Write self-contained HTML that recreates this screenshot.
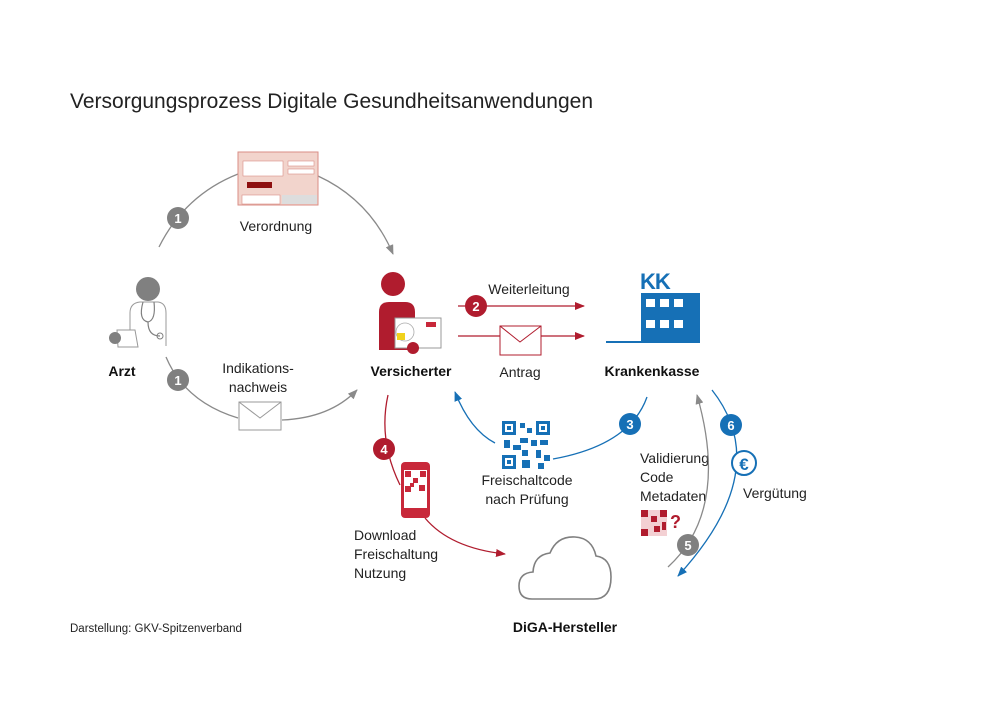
<!DOCTYPE html>
<html><head><meta charset="utf-8"><style>
html,body{margin:0;padding:0;background:#fff;}
svg{display:block;font-family:"Liberation Sans",sans-serif;}
</style></head><body>
<svg width="998" height="703" viewBox="0 0 998 703" xmlns="http://www.w3.org/2000/svg">
<defs>
<marker id="ag" markerWidth="10" markerHeight="8" refX="9" refY="4" orient="auto" markerUnits="userSpaceOnUse"><path d="M0,0 L10,4 L0,8 z" fill="#8a8a8a"/></marker>
<marker id="ar" markerWidth="10" markerHeight="8" refX="9" refY="4" orient="auto" markerUnits="userSpaceOnUse"><path d="M0,0 L10,4 L0,8 z" fill="#b01c2e"/></marker>
<marker id="ab" markerWidth="10" markerHeight="8" refX="9" refY="4" orient="auto" markerUnits="userSpaceOnUse"><path d="M0,0 L10,4 L0,8 z" fill="#1670b6"/></marker>
</defs>
<text x="70" y="108" font-size="21" fill="#222">Versorgungsprozess Digitale Gesundheitsanwendungen</text>

<!-- top arc -->
<path d="M159,247 Q185,195 238,174" fill="none" stroke="#8a8a8a" stroke-width="1.3"/>
<path d="M318,176 Q370,200 393,254" fill="none" stroke="#8a8a8a" stroke-width="1.3" marker-end="url(#ag)"/>
<circle cx="178" cy="218" r="11" fill="#808080"/><text x="178" y="223" font-size="13" font-weight="bold" fill="#fff" text-anchor="middle">1</text>
<!-- prescription -->
<rect x="238" y="152" width="80" height="53" fill="#f2d4cc" stroke="#d98e86"/>
<rect x="243" y="161" width="40" height="15" fill="#fff" stroke="#d98e86" stroke-width=".6"/>
<rect x="288" y="161" width="26" height="5" fill="#fff" stroke="#d98e86" stroke-width=".6"/>
<rect x="288" y="169" width="26" height="5" fill="#fff" stroke="#d98e86" stroke-width=".6"/>
<rect x="247" y="182" width="25" height="6" fill="#8e1010"/>
<rect x="242" y="195" width="38" height="9" fill="#fff" stroke="#d98e86" stroke-width=".6"/>
<rect x="282" y="195" width="35" height="9" fill="#ddd"/>
<text x="276" y="231" font-size="14" fill="#222" text-anchor="middle">Verordnung</text>

<!-- doctor -->
<circle cx="148" cy="289" r="12" fill="#808080"/>
<path d="M130,346 L130,313 Q130,303 140,302 L158,302 Q166,303 166,313 L166,346" fill="none" stroke="#999" stroke-width="1"/>
<path d="M143,302 Q138,320 148,322 Q156,320 154,302 M148,322 Q148,336 160,336" fill="none" stroke="#808080" stroke-width="1.2"/>
<circle cx="160" cy="336" r="3" fill="none" stroke="#808080"/>
<path d="M117,330 L135,330 L138,347 L118,347z" fill="#fff" stroke="#999"/>
<circle cx="115" cy="338" r="6" fill="#808080"/>
<text x="122" y="376" font-size="14" font-weight="bold" fill="#111" text-anchor="middle">Arzt</text>

<!-- lower arc -->
<path d="M166,357 Q185,402 238,418" fill="none" stroke="#8a8a8a" stroke-width="1.3"/>
<path d="M282,420 Q330,418 357,390" fill="none" stroke="#8a8a8a" stroke-width="1.3" marker-end="url(#ag)"/>
<circle cx="178" cy="380" r="11" fill="#808080"/><text x="178" y="385" font-size="13" font-weight="bold" fill="#fff" text-anchor="middle">1</text>
<rect x="239" y="402" width="42" height="28" fill="#fff" stroke="#999"/>
<path d="M239,402 L260,418 L281,402" fill="none" stroke="#999"/>
<text x="258" y="373" font-size="14" fill="#222" text-anchor="middle">Indikations-</text>
<text x="258" y="392" font-size="14" fill="#222" text-anchor="middle">nachweis</text>

<!-- Versicherter -->
<circle cx="393" cy="284" r="12" fill="#b01c2e"/>
<path d="M379,350 L379,312 Q379,302 389,302 L405,302 Q415,302 415,312 L415,350z" fill="#b01c2e"/>
<rect x="395" y="318" width="46" height="30" fill="#fff" stroke="#999"/>
<rect x="426" y="322" width="10" height="5" fill="#c8283a"/>
<circle cx="405" cy="332" r="9" fill="none" stroke="#aaa" stroke-width=".8"/>
<rect x="397" y="333" width="8" height="7" fill="#f0d21c"/>
<circle cx="413" cy="348" r="6" fill="#b01c2e"/>
<text x="411" y="376" font-size="14" font-weight="bold" fill="#111" text-anchor="middle">Versicherter</text>

<!-- arrows 2 -->
<line x1="458" y1="306" x2="584" y2="306" stroke="#b01c2e" stroke-width="1.3" marker-end="url(#ar)"/>
<circle cx="476" cy="306" r="11" fill="#b01c2e"/><text x="476" y="311" font-size="13" font-weight="bold" fill="#fff" text-anchor="middle">2</text>
<text x="529" y="294" font-size="14" fill="#222" text-anchor="middle">Weiterleitung</text>
<line x1="458" y1="336" x2="584" y2="336" stroke="#b01c2e" stroke-width="1.3" marker-end="url(#ar)"/>
<rect x="500" y="326" width="41" height="29" fill="#fff" stroke="#b01c2e"/>
<path d="M500,326 L520,342 L541,326" fill="none" stroke="#b01c2e"/>
<text x="520" y="377" font-size="14" fill="#222" text-anchor="middle">Antrag</text>

<!-- KK -->
<text x="640" y="289" font-size="22" font-weight="bold" fill="#1670b6" letter-spacing="-1">KK</text>
<rect x="641" y="293" width="59" height="49" fill="#1670b6"/>
<g fill="#fff"><rect x="646" y="299" width="9" height="8"/><rect x="660" y="299" width="9" height="8"/><rect x="674" y="299" width="9" height="8"/>
<rect x="646" y="320" width="9" height="8"/><rect x="660" y="320" width="9" height="8"/><rect x="674" y="320" width="9" height="8"/></g>
<line x1="606" y1="342" x2="700" y2="342" stroke="#1670b6" stroke-width="2"/>
<text x="652" y="376" font-size="14" font-weight="bold" fill="#111" text-anchor="middle">Krankenkasse</text>

<!-- blue arc 3 -->
<path d="M647,397 Q630,445 553,459" fill="none" stroke="#1670b6" stroke-width="1.3"/>
<path d="M495,443 Q470,430 455,392" fill="none" stroke="#1670b6" stroke-width="1.3" marker-end="url(#ab)"/>
<circle cx="630" cy="424" r="11" fill="#1670b6"/><text x="630" y="429" font-size="13" font-weight="bold" fill="#fff" text-anchor="middle">3</text>
<g fill="#1670b6">
<rect x="502" y="421" width="48" height="48" fill="none"/>
<rect x="502" y="421" width="14" height="14"/><rect x="536" y="421" width="14" height="14"/><rect x="502" y="455" width="14" height="14"/>
<rect x="520" y="423" width="5" height="5"/><rect x="527" y="428" width="5" height="5"/><rect x="520" y="438" width="8" height="5"/><rect x="504" y="440" width="6" height="8"/><rect x="513" y="445" width="8" height="5"/><rect x="531" y="440" width="6" height="6"/><rect x="540" y="440" width="8" height="5"/><rect x="522" y="450" width="6" height="6"/><rect x="536" y="450" width="5" height="8"/><rect x="544" y="455" width="6" height="6"/><rect x="522" y="460" width="8" height="8"/><rect x="538" y="463" width="6" height="6"/>
</g>
<g fill="#fff"><rect x="505" y="424" width="8" height="8"/><rect x="539" y="424" width="8" height="8"/><rect x="505" y="458" width="8" height="8"/></g>
<g fill="#1670b6"><rect x="507" y="426" width="4" height="4"/><rect x="541" y="426" width="4" height="4"/><rect x="507" y="460" width="4" height="4"/></g>
<text x="527" y="485" font-size="14" fill="#222" text-anchor="middle">Freischaltcode</text>
<text x="527" y="504" font-size="14" fill="#222" text-anchor="middle">nach Prüfung</text>

<!-- red 4 -->
<path d="M388,395 Q378,440 400,485" fill="none" stroke="#b01c2e" stroke-width="1.3"/>
<path d="M425,518 Q450,548 505,554" fill="none" stroke="#b01c2e" stroke-width="1.3" marker-end="url(#ar)"/>
<circle cx="384" cy="449" r="11" fill="#b01c2e"/><text x="384" y="454" font-size="13" font-weight="bold" fill="#fff" text-anchor="middle">4</text>
<rect x="401" y="462" width="29" height="56" rx="4" fill="#c8283a"/>
<rect x="404" y="470" width="23" height="38" fill="#fff"/>
<g fill="#c8283a"><rect x="405" y="471" width="6" height="6"/><rect x="420" y="471" width="6" height="6"/><rect x="405" y="486" width="6" height="6"/><rect x="413" y="478" width="5" height="5"/><rect x="419" y="485" width="6" height="6"/><rect x="410" y="483" width="4" height="4"/></g>
<text x="354" y="540" font-size="14" fill="#222">Download</text>
<text x="354" y="559" font-size="14" fill="#222">Freischaltung</text>
<text x="354" y="578" font-size="14" fill="#222">Nutzung</text>

<!-- cloud -->
<path d="M532,599 Q519,599 519,586 Q519,573 533,572 Q534,555 550,553 Q557,536 575,537 Q592,538 596,556 Q611,558 611,577 Q611,599 594,599z" fill="#fff" stroke="#808080" stroke-width="1.6"/>
<text x="565" y="632" font-size="14" font-weight="bold" fill="#111" text-anchor="middle">DiGA-Hersteller</text>

<!-- validation -->
<text x="640" y="463" font-size="14" fill="#222">Validierung</text>
<text x="640" y="482" font-size="14" fill="#222">Code</text>
<text x="640" y="501" font-size="14" fill="#222">Metadaten</text>
<g fill="#b01c2e"><rect x="641" y="510" width="26" height="26" fill="#f3d0d3"/><rect x="641" y="510" width="7" height="7"/><rect x="660" y="510" width="7" height="7"/><rect x="641" y="529" width="7" height="7"/><rect x="651" y="516" width="6" height="6"/><rect x="654" y="526" width="6" height="6"/><rect x="662" y="522" width="4" height="8"/></g>
<text x="670" y="528" font-size="18" font-weight="bold" fill="#b01c2e">?</text>

<!-- gray 5 -->
<path d="M668,567 Q730,510 697,395" fill="none" stroke="#8a8a8a" stroke-width="1.3" marker-end="url(#ag)"/>
<circle cx="688" cy="545" r="11" fill="#808080"/><text x="688" y="550" font-size="13" font-weight="bold" fill="#fff" text-anchor="middle">5</text>
<!-- blue 6 -->
<path d="M712,390 Q775,470 678,576" fill="none" stroke="#1670b6" stroke-width="1.3" marker-end="url(#ab)"/>
<circle cx="731" cy="425" r="11" fill="#1670b6"/><text x="731" y="430" font-size="13" font-weight="bold" fill="#fff" text-anchor="middle">6</text>
<circle cx="744" cy="463" r="12" fill="#fff" stroke="#1670b6" stroke-width="2"/>
<text x="744" y="470" font-size="17" font-weight="bold" fill="#1670b6" text-anchor="middle">€</text>
<text x="743" y="498" font-size="14" fill="#222">Vergütung</text>

<text x="70" y="632" font-size="11.5" fill="#222">Darstellung: GKV-Spitzenverband</text>
</svg>
</body></html>
